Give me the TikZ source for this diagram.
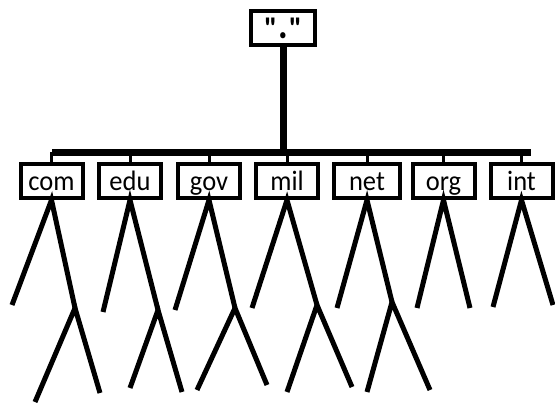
\documentclass[tikz,border=0pt]{standalone}
\usepackage{graphicx}
\usepackage{fontspec}
\setmainfont{Carlito}[Ligatures=TeXOff]
\newcommand\vst[1]{\scalebox{1}[1.06]{#1}}
\begin{document}
\begin{tikzpicture}[x=1pt,y=-1pt,
  dbox/.style={draw, line width=4pt, minimum width=62pt, minimum height=34pt, inner sep=0pt,
    text height=18pt, text depth=0pt, font=\fontsize{26.5}{27}\selectfont},
  leg/.style={line width=5pt},
  tick/.style={line width=3pt},
  bar/.style={line width=7pt}]
\useasboundingbox (0,0) rectangle (555,405);
\node[dbox, minimum width=64pt, text height=20pt, font=\fontsize{30}{30}\selectfont\bfseries] (root) at (283,28) {"{\kern1pt}\scalebox{1.2}[1.4]{.}{\kern1pt}"};
\coordinate (bl) at (52,152);
\coordinate (br) at (531,152);
\coordinate (bm) at (283,152);
\draw[bar] (bl) -- (br);
\draw[bar] (root.south) -- (bm);
\node[dbox] (com) at (51.5,181) {\vst{com}};
\node[dbox] (edu) at (130,181) {\vst{edu}};
\node[dbox] (gov) at (209,181) {\vst{gov}};
\node[dbox] (mil) at (287,181) {\vst{mil}};
\node[dbox, minimum width=66pt] (net) at (367,181) {\vst{net}};
\node[dbox] (org) at (443.5,181) {\vst{org}};
\node[dbox] (int) at (521.5,181) {\vst{int}};
\foreach \n in {com,edu,gov,mil,net,org,int}{
  \draw[tick] (\n.north |- bl) -- (\n.north);
}
% leg ends
\coordinate (comL) at (12,305);   \coordinate (comM) at (75,308);
\coordinate (comA) at (35,402);   \coordinate (comB) at (100,393);
\coordinate (eduL) at (103,312);  \coordinate (eduM) at (158,310);
\coordinate (eduA) at (130,388);  \coordinate (eduB) at (182,392);
\coordinate (govL) at (175,310);  \coordinate (govM) at (235,308);
\coordinate (govA) at (197,390);  \coordinate (govB) at (267,385);
\coordinate (milL) at (252,308);  \coordinate (milM) at (317,305);
\coordinate (milA) at (287,392);  \coordinate (milB) at (352,387);
\coordinate (netL) at (337,308);  \coordinate (netM) at (392,302);
\coordinate (netA) at (367,392);  \coordinate (netB) at (430,390);
\coordinate (orgL) at (417,308);  \coordinate (orgR) at (470,308);
\coordinate (intL) at (493,307);  \coordinate (intR) at (553,305);
\foreach \n in {com,edu,gov,mil,net}{
  \draw[leg] (\n L) -- (\n.south) -- (\n M);
  \draw[leg] (\n A) -- (\n M) -- (\n B);
}
\draw[leg] (orgL) -- (org.south) -- (orgR);
\draw[leg] (intL) -- (int.south) -- (intR);
\end{tikzpicture}
\end{document}
